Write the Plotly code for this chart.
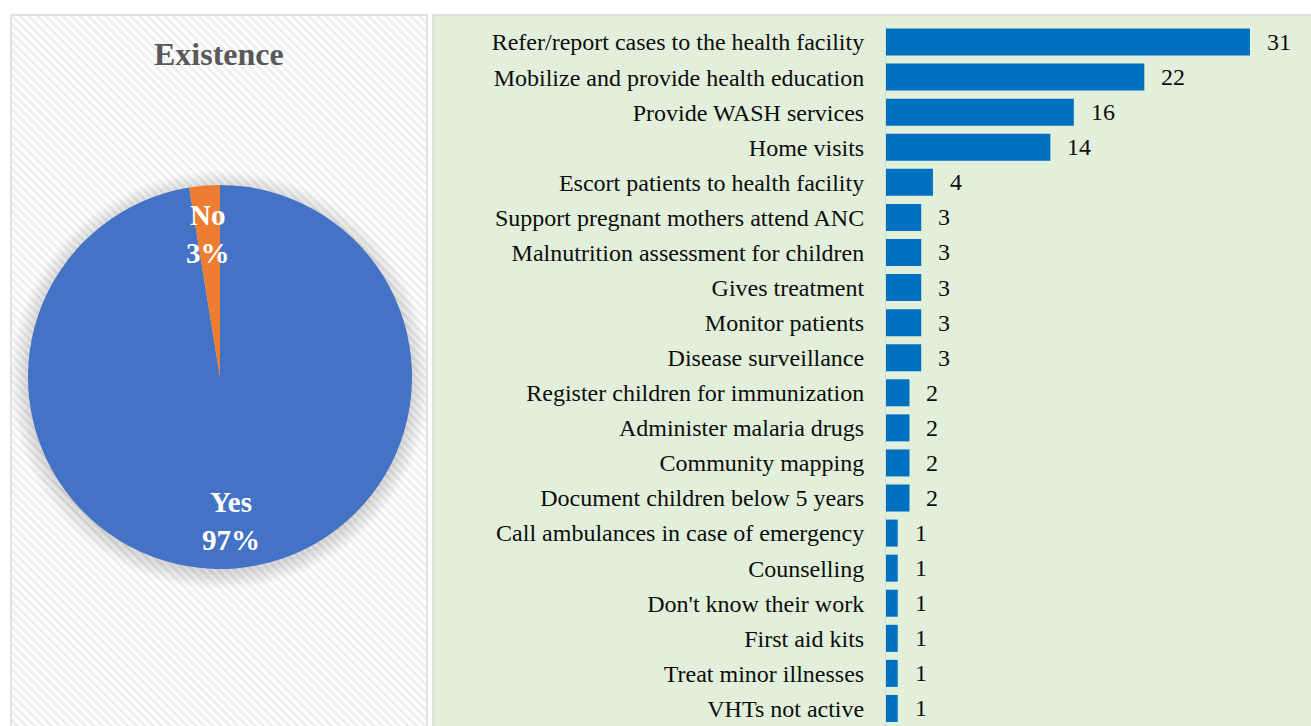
import numpy as np
import plotly.graph_objects as go

W, H = 1311, 726

# Pie: existence of VHTs (respondent counts)
pie_labels = ["Yes", "No"]
pie_values = [38, 1]
pie_colors = ["#4472C4", "#ED7D31"]

# Bars: roles of VHTs
activities = [
    "Refer/report cases to the health facility",
    "Mobilize and provide health education",
    "Provide WASH services",
    "Home visits",
    "Escort patients to health facility",
    "Support pregnant mothers attend ANC",
    "Malnutrition assessment for children",
    "Gives treatment",
    "Monitor patients",
    "Disease surveillance",
    "Register children for immunization",
    "Administer malaria drugs",
    "Community mapping",
    "Document children below 5 years",
    "Call ambulances in case of emergency",
    "Counselling",
    "Don't know their work",
    "First aid kits",
    "Treat minor illnesses",
    "VHTs not active",
]
counts = [31, 22, 16, 14, 4, 3, 3, 3, 3, 3, 2, 2, 2, 2, 1, 1, 1, 1, 1, 1]

SERIF = "Liberation Serif, Times New Roman, serif"


def fx(p):
    return p / W


def fy(p):
    return 1 - p / H


fig = go.Figure()

# Hatched backdrop of the left panel (pixel-scaled helper axes)
fig.add_trace(go.Scatter(
    x=[12, 426, 426, 12, 12], y=[16, 16, 730, 730, 16],
    mode="lines", fill="toself", line=dict(width=0),
    fillcolor="rgba(0,0,0,0)",
    fillpattern=dict(shape="\\", fgcolor="#eeeeee", size=6, solidity=0.45),
    xaxis="x2", yaxis="y2", hoverinfo="skip", showlegend=False,
))

# Soft shadow around the pie
cx, cy, r0 = 220, 380, 192
t = np.linspace(0, 2 * np.pi, 241)
for k in range(1, 19):
    rr = r0 + k
    fig.add_trace(go.Scatter(
        x=cx + rr * np.cos(t), y=cy + rr * np.sin(t),
        mode="lines", fill="toself", line=dict(width=0),
        fillcolor="rgba(0,0,0,0.009)",
        xaxis="x2", yaxis="y2", hoverinfo="skip", showlegend=False,
    ))

fig.add_trace(go.Pie(
    labels=pie_labels, values=pie_values, sort=False,
    direction="clockwise", rotation=0,
    marker=dict(colors=pie_colors, line=dict(width=0)),
    textinfo="none", hoverinfo="label+percent",
    domain=dict(x=[fx(28), fx(412)], y=[fy(569), fy(185)]),
    showlegend=False,
))

fig.add_trace(go.Bar(
    x=counts, y=activities, orientation="h",
    marker=dict(color="#0070C0", line=dict(width=0)),
    xaxis="x", yaxis="y", showlegend=False,
))

annotations = [
    dict(text="<b>Existence</b>", x=fx(219), y=fy(54), xref="paper", yref="paper",
         xanchor="center", yanchor="middle", showarrow=False,
         font=dict(family=SERIF, size=32, color="#595959")),
]

# Pie slice labels
total = sum(pie_values)
pie_label_pos = [(231, 521), (208, 234)]
for lab, val, (px, py) in zip(pie_labels, pie_values, pie_label_pos):
    annotations.append(dict(
        text=f"<b>{lab}<br>{round(100 * val / total)}%</b>",
        x=fx(px), y=fy(py), xref="paper", yref="paper",
        xanchor="center", yanchor="middle", showarrow=False,
        font=dict(family=SERIF, size=29, color="white"),
    ))

# Bar value labels
for act, c in zip(activities, counts):
    annotations.append(dict(
        text=str(c), x=c, y=act, xref="x", yref="y",
        xanchor="left", yanchor="middle", xshift=15, showarrow=False,
        font=dict(family=SERIF, size=24, color="#0d0d0d"),
    ))

shapes = [
    dict(type="rect", xref="paper", yref="paper",
         x0=fx(11), x1=fx(427), y0=-0.05, y1=fy(15),
         fillcolor="white", line=dict(color="#d9d9d9", width=1.5), layer="below"),
    dict(type="rect", xref="paper", yref="paper",
         x0=fx(433), x1=1.05, y0=-0.05, y1=fy(15),
         fillcolor="#E2EFDA", line=dict(color="#d9d9d9", width=1.5), layer="below"),
]

fig.update_layout(
    width=W, height=H,
    margin=dict(l=0, r=0, t=0, b=0),
    template="none",
    paper_bgcolor="white", plot_bgcolor="rgba(0,0,0,0)",
    bargap=0.23,
    showlegend=False,
    shapes=shapes,
    annotations=annotations,
    xaxis=dict(domain=[fx(886), 1.0], range=[0, 36.2], visible=False, fixedrange=True),
    yaxis=dict(domain=[fy(726), fy(24.5)], autorange="reversed",
               showline=True, linecolor="#d9d9d9", linewidth=1,
               showgrid=False, zeroline=False, ticks="", ticklabelstandoff=16,
               tickfont=dict(family=SERIF, size=24, color="#0d0d0d"),
               anchor="x", automargin=False),
    xaxis2=dict(domain=[fx(11), fx(427)], range=[11, 427], visible=False,
                anchor="y2", fixedrange=True),
    yaxis2=dict(domain=[0, fy(15)], range=[726, 15], visible=False,
                anchor="x2", fixedrange=True),
)

fig.write_html("out.html")
